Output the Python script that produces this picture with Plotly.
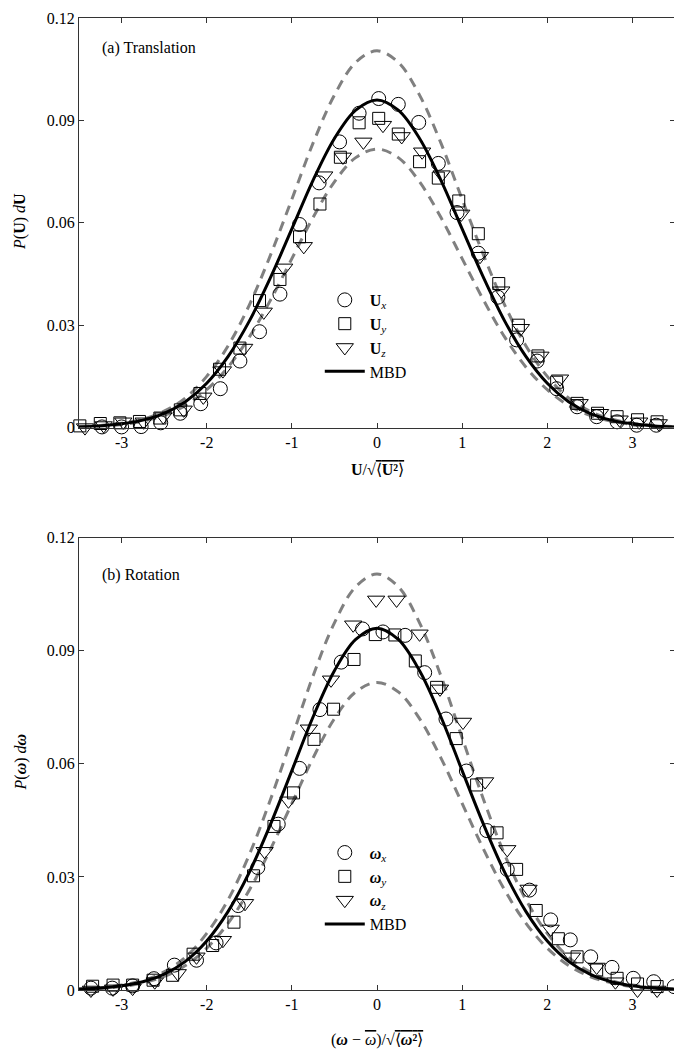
import plotly.graph_objects as go

# ---------------- data ----------------
# theory curve (MBD) and +/- envelopes, sampled
x_curve = [-3.5, -3.25, -3.0, -2.75, -2.5, -2.25, -2.0, -1.75, -1.5, -1.25, -1.0, -0.75, -0.5, -0.25,
           0.0, 0.25, 0.5, 0.75, 1.0, 1.25, 1.5, 1.75, 2.0, 2.25, 2.5, 2.75, 3.0, 3.25, 3.5]
mbd_half = [0.0960, 0.0930, 0.0847, 0.0725, 0.0582, 0.0440, 0.0312, 0.0208, 0.0130, 0.0076, 0.0042,
            0.0022, 0.0011, 0.0005, 0.0002]
up_half = [0.1104, 0.1070, 0.0974, 0.0834, 0.0669, 0.0506, 0.0359, 0.0239, 0.0150, 0.0087, 0.0048,
           0.0025, 0.0013, 0.0006, 0.0003]
lo_half = [0.0816, 0.0791, 0.0720, 0.0616, 0.0495, 0.0374, 0.0265, 0.0177, 0.0111, 0.0065, 0.0036,
           0.0019, 0.0009, 0.0004, 0.0002]
mbd = mbd_half[:0:-1] + mbd_half
upper = up_half[:0:-1] + up_half
lower = lo_half[:0:-1] + lo_half

# (a) Translation
x_ux = [-3.23, -3.00, -2.77, -2.54, -2.31, -2.07, -1.84, -1.61, -1.38, -1.14, -0.91, -0.68, -0.44, -0.21,
        0.02, 0.25, 0.49, 0.72, 0.94, 1.19, 1.42, 1.64, 1.88, 2.11, 2.35, 2.58, 2.82, 3.05, 3.28]
y_ux = [0.0002, 0.0002, 0.0003, 0.0014, 0.0042, 0.0070, 0.0114, 0.0195, 0.0281, 0.0391, 0.0595, 0.0717,
        0.0837, 0.0921, 0.0964, 0.0947, 0.0894, 0.0774, 0.0630, 0.0511, 0.0382, 0.0257, 0.0195, 0.0114,
        0.0061, 0.0032, 0.0017, 0.0007, 0.0007]
x_uy = [-3.49, -3.25, -3.02, -2.79, -2.55, -2.31, -2.08, -1.85, -1.61, -1.38, -1.14, -0.91, -0.67, -0.43,
        -0.21, 0.02, 0.25, 0.50, 0.72, 0.96, 1.19, 1.43, 1.66, 1.89, 2.11, 2.35, 2.59, 2.82, 3.06, 3.29]
y_uy = [0.0005, 0.0012, 0.0014, 0.0018, 0.0028, 0.0052, 0.0100, 0.0171, 0.0233, 0.0372, 0.0434, 0.0559,
        0.0655, 0.0792, 0.0893, 0.0906, 0.0860, 0.0779, 0.0731, 0.0664, 0.0568, 0.0422, 0.0300, 0.0210,
        0.0133, 0.0071, 0.0042, 0.0032, 0.0023, 0.0017]
x_uz = [-3.43, -3.21, -2.98, -2.74, -2.51, -2.27, -2.04, -1.81, -1.56, -1.33, -1.09, -0.86, -0.62, -0.40,
        -0.16, 0.07, 0.29, 0.53, 0.76, 0.99, 1.21, 1.46, 1.69, 1.92, 2.15, 2.38, 2.62, 2.85, 3.08, 3.31]
y_uz = [0.0000, 0.0006, 0.0017, 0.0017, 0.0032, 0.0052, 0.0090, 0.0167, 0.0233, 0.0339, 0.0468, 0.0531,
        0.0738, 0.0793, 0.0837, 0.0886, 0.0853, 0.0808, 0.0741, 0.0626, 0.0502, 0.0401, 0.0291, 0.0210,
        0.0143, 0.0071, 0.0042, 0.0023, 0.0017, 0.0012]

# (b) Rotation
x_wx = [-3.36, -3.11, -2.87, -2.62, -2.38, -2.12, -1.89, -1.63, -1.40, -1.16, -0.91, -0.67, -0.42, -0.17,
        0.07, 0.33, 0.56, 0.81, 1.05, 1.29, 1.53, 1.79, 2.04, 2.27, 2.51, 2.76, 3.01, 3.25, 3.49]
y_wx = [0.0005, 0.0005, 0.0011, 0.0030, 0.0066, 0.0079, 0.0125, 0.0224, 0.0325, 0.0440, 0.0588, 0.0744,
        0.0870, 0.0958, 0.0950, 0.0941, 0.0842, 0.0719, 0.0581, 0.0423, 0.0320, 0.0265, 0.0186, 0.0133,
        0.0088, 0.0060, 0.0031, 0.0022, 0.0009]
x_wy = [-3.34, -3.10, -2.87, -2.63, -2.40, -2.16, -1.93, -1.68, -1.45, -1.21, -0.98, -0.74, -0.51, -0.27,
        -0.02, 0.21, 0.45, 0.70, 0.93, 1.17, 1.41, 1.64, 1.87, 2.13, 2.35, 2.58, 2.82, 3.06, 3.29]
y_wy = [0.0010, 0.0013, 0.0013, 0.0026, 0.0039, 0.0095, 0.0118, 0.0180, 0.0303, 0.0434, 0.0523, 0.0665,
        0.0745, 0.0877, 0.0943, 0.0942, 0.0873, 0.0803, 0.0667, 0.0544, 0.0417, 0.0320, 0.0211, 0.0136,
        0.0088, 0.0053, 0.0031, 0.0016, 0.0009]
x_wz = [-3.36, -3.10, -2.87, -2.61, -2.34, -2.12, -1.81, -1.55, -1.32, -1.04, -0.80, -0.54, -0.28, -0.01,
        0.23, 0.50, 0.74, 1.01, 1.27, 1.53, 1.78, 2.04, 2.29, 2.58, 2.80, 3.06, 3.29]
y_wz = [0.0000, 0.0003, 0.0005, 0.0022, 0.0044, 0.0088, 0.0132, 0.0230, 0.0368, 0.0502, 0.0693, 0.0823,
        0.0969, 0.1035, 0.1035, 0.0945, 0.0799, 0.0711, 0.0553, 0.0373, 0.0268, 0.0162, 0.0088, 0.0061,
        0.0022, 0.0000, 0.0000]

x_ticks = [-3, -2, -1, 0, 1, 2, 3]
x_ticktext = ["-3", "-2", "-1", "0", "1", "2", "3"]
y_ticks = [0, 0.03, 0.06, 0.09, 0.12]
y_ticktext = ["0", "0.03", "0.06", "0.09", "0.12"]

# ---------------- figure ----------------
FONT = "Liberation Serif"
fig = go.Figure()

def add_panel(xa, ya, legend, series, names):
    # envelopes (dashed) and theory (solid)
    for yy in (upper, lower):
        fig.add_trace(go.Scatter(x=x_curve, y=yy, mode="lines", xaxis=xa, yaxis=ya,
                                 line=dict(color="#808080", width=3, dash="10px,7px", shape="spline"),
                                 showlegend=False, hoverinfo="skip"))
    symbols = ["circle-open", "square-open", "triangle-down-open"]
    sizes = [14, 12, 15]
    for (xs, ys), nm, sym, sz in zip(series, names[:3], symbols, sizes):
        fig.add_trace(go.Scatter(x=xs, y=ys, mode="markers", name=nm, xaxis=xa, yaxis=ya,
                                 legend=legend, cliponaxis=False,
                                 marker=dict(symbol=sym, size=sz, color="black",
                                             line=dict(color="black", width=1))))
    fig.add_trace(go.Scatter(x=x_curve, y=mbd, mode="lines", name=names[3], xaxis=xa, yaxis=ya,
                             legend=legend, line=dict(color="black", width=3, shape="spline")))

add_panel("x", "y", "legend",
          [(x_ux, y_ux), (x_uy, y_uy), (x_uz, y_uz)],
          ["<b>U</b><sub><i>x</i></sub>", "<b>U</b><sub><i>y</i></sub>",
           "<b>U</b><sub><i>z</i></sub>", "MBD"])
add_panel("x2", "y2", "legend2",
          [(x_wx, y_wx), (x_wy, y_wy), (x_wz, y_wz)],
          ["<b><i>ω</i></b><sub><i>x</i></sub>", "<b><i>ω</i></b><sub><i>y</i></sub>",
           "<b><i>ω</i></b><sub><i>z</i></sub>", "MBD"])

axis_common = dict(showline=True, linecolor="#333333", linewidth=1, mirror="ticks",
                   ticks="inside", ticklen=5, tickwidth=1, tickcolor="#333333",
                   showgrid=False, zeroline=False, ticklabeloverflow="allow",
                   tickfont=dict(family=FONT, size=16, color="black"))

legend_common = dict(font=dict(family=FONT, size=16, color="black"), bgcolor="rgba(0,0,0,0)",
                     borderwidth=0, xanchor="left", yanchor="top", tracegroupgap=0,
                     itemwidth=40)

# the page body adds an 8 px offset; margins compensate for it
fig.update_layout(
    width=682, height=1050,
    margin=dict(l=71, r=15, t=2, b=68),
    plot_bgcolor="white", paper_bgcolor="white",
    font=dict(family=FONT, size=16, color="black"),
    xaxis=dict(domain=[0, 1], anchor="y", range=[-3.5, 3.5], tickvals=x_ticks, ticktext=x_ticktext,
               **axis_common),
    yaxis=dict(domain=[0.5786, 1], anchor="x", range=[0, 0.12], tickvals=y_ticks, ticktext=y_ticktext,
               **axis_common),
    xaxis2=dict(domain=[0, 1], anchor="y2", range=[-3.5, 3.5], tickvals=x_ticks, ticktext=x_ticktext,
                **axis_common),
    yaxis2=dict(domain=[0, 0.4653], anchor="x2", range=[0, 0.12], tickvals=y_ticks, ticktext=y_ticktext,
                **axis_common),
    legend=dict(x=0.404, y=0.7274, **legend_common),
    legend2=dict(x=0.404, y=0.1588, **legend_common),
)

OV = "<span style='text-decoration:overline'>"
ann_font = dict(family=FONT, size=16, color="black")
annotations = [
    dict(text="(a) Translation", x=0.035, y=0.9694, xanchor="left", yanchor="middle"),
    dict(text="(b) Rotation", x=0.035, y=0.4265, xanchor="left", yanchor="middle"),
    dict(text="<b>U</b>/√" + OV + "⟨<b>U²</b>⟩</span>", x=0.5, y=0.5357,
         xanchor="center", yanchor="middle"),
    dict(text="(<b><i>ω</i></b> − " + OV + "<i>ω</i></span>)/√" + OV + "⟨<b><i>ω</i>²</b>⟩</span>",
         x=0.5, y=-0.0510, xanchor="center", yanchor="middle"),
    dict(text="<i>P</i>(<b>U</b>) <i>d</i><b>U</b>", x=-0.098, y=0.7908, textangle=-90,
         xanchor="center", yanchor="middle"),
    dict(text="<i>P</i>(<b><i>ω</i></b>) <i>d</i><b><i>ω</i></b>", x=-0.098, y=0.2347, textangle=-90,
         xanchor="center", yanchor="middle"),
]
for a in annotations:
    fig.add_annotation(xref="paper", yref="paper", showarrow=False, font=ann_font, **a)

fig.write_html("out.html")
